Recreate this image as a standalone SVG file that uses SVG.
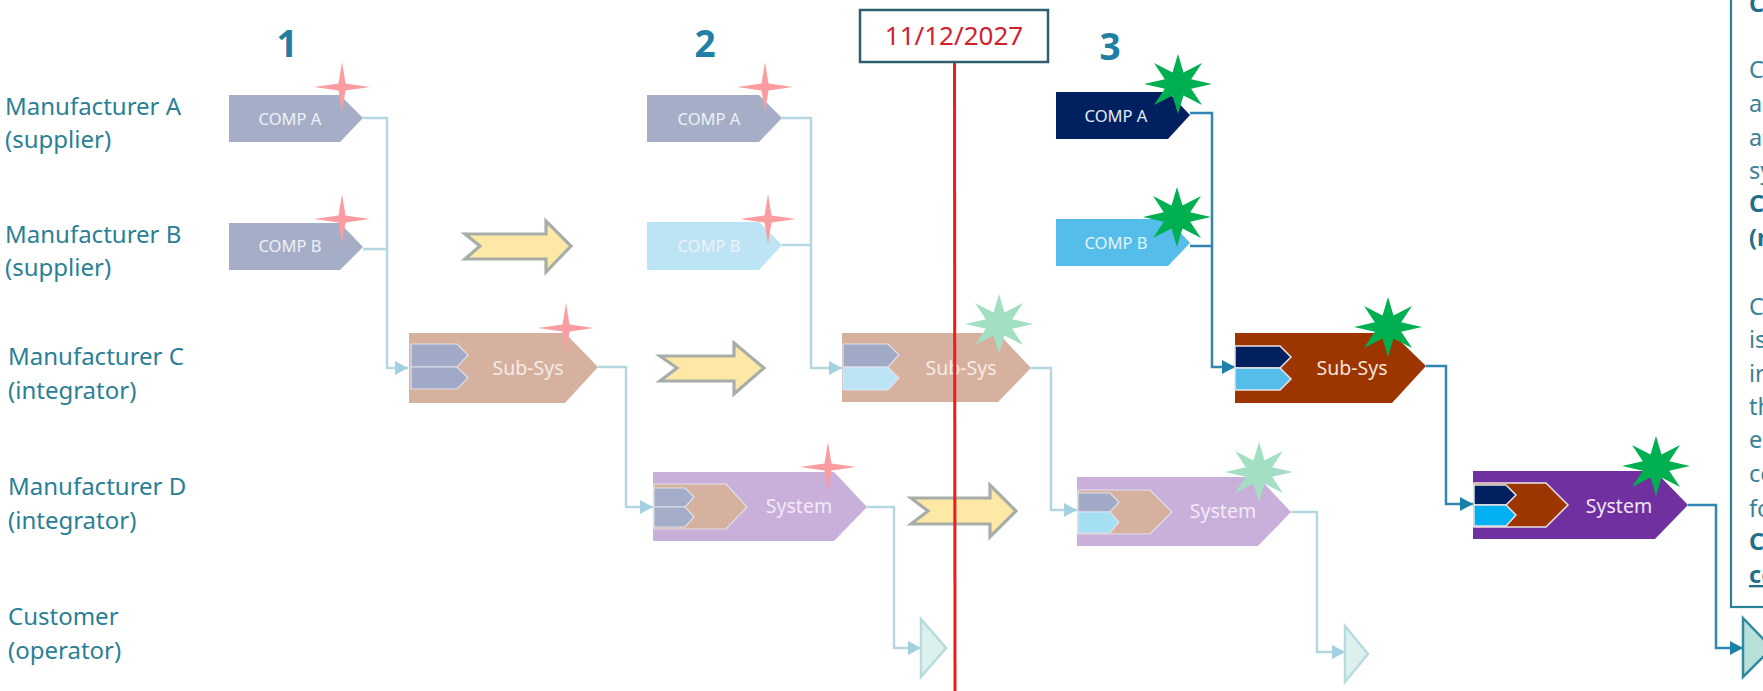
<svg xmlns="http://www.w3.org/2000/svg" width="1763" height="691" viewBox="0 0 1763 691">
<style>
text{font-family:"Noto Sans","Open Sans","Liberation Sans",sans-serif}
.lab{font-size:24px;fill:#2a7f96}
.num{font-size:37px;font-weight:700;fill:#1f7fa5;text-anchor:middle}
.cp{font-size:16.5px;text-anchor:middle}
.lg{font-size:19.5px;text-anchor:middle}
.fadeT{fill:#eef1f7}
.pan{font-size:23.5px;fill:#3a8199}
.panb{font-size:23.5px;fill:#1f7088;font-weight:700}
.cf{fill:none;stroke:#b4d6e0;stroke-width:2.5;marker-end:url(#mf)}
.cfp{fill:none;stroke:#b4d6e0;stroke-width:2.5}
.cd{fill:none;stroke:#2f86b3;stroke-width:2.5;marker-end:url(#md)}
.cdp{fill:none;stroke:#2f86b3;stroke-width:2.5}
.big{fill:#fde9a5;stroke:#a7aeaa;stroke-width:3.2}
.in{stroke:#e8e2e6;stroke-width:1.5}
.inf{stroke:#dfe2ea;stroke-width:1.2}
.s4{fill:#fa9ca0}
.s8f{fill:#a3e0c3}
.s8{fill:#00b050}
</style>
<defs>
<marker id="mf" markerUnits="userSpaceOnUse" markerWidth="14" markerHeight="16" refX="13" refY="8" orient="auto"><path d="M0 1L13 8L0 15Z" fill="#a2d2e2"/></marker>
<marker id="md" markerUnits="userSpaceOnUse" markerWidth="14" markerHeight="16" refX="13" refY="8" orient="auto"><path d="M0 1L13 8L0 15Z" fill="#1a81ab"/></marker>
<polygon id="star4" points="0,-25 3.5,-3.5 28,0 3.5,3.5 0,25 -3.5,3.5 -28,0 -3.5,-3.5"/>
<polygon id="star8" points="0,-30 5.5,-11.6 24,-21 13.2,-4.8 34,0 13.2,4.8 24,21 5.5,11.6 0,30 -5.5,11.6 -24,21 -13.2,4.8 -34,0 -13.2,-4.8 -24,-21 -5.5,-11.6"/>
</defs>

<g id="row-labels">
<text class="lab" x="5" y="115">Manufacturer A</text><text class="lab" x="5" y="148">(supplier)</text>
<text class="lab" x="5" y="243">Manufacturer B</text><text class="lab" x="5" y="276">(supplier)</text>
<text class="lab" x="8" y="365">Manufacturer C</text><text class="lab" x="8" y="399">(integrator)</text>
<text class="lab" x="8" y="495">Manufacturer D</text><text class="lab" x="8" y="529">(integrator)</text>
<text class="lab" x="8" y="625">Customer</text><text class="lab" x="8" y="659">(operator)</text>
</g>
<g id="step-numbers">
<text class="num" x="287" y="57">1</text><text class="num" x="705" y="57">2</text><text class="num" x="1110" y="60">3</text>
</g>

<g id="connectors">
<path class="cf" d="M363 118H387V368H408"/><path class="cfp" d="M363 249H387"/>
<path class="cf" d="M598 367H626V507H653"/>
<path class="cf" d="M867 507H894V648H921"/>
<path class="cf" d="M782 118H811V368H842"/><path class="cfp" d="M782 245H811"/>
<path class="cf" d="M1031 368H1051V510H1077"/>
<path class="cf" d="M1291 512H1317V652H1345"/>
<path class="cd" d="M1190 113H1212V367H1235"/><path class="cdp" d="M1190 246H1212"/>
<path class="cd" d="M1426 366H1446V504H1473"/>
<path class="cd" d="M1688 505H1716V648H1743"/>
</g>

<g id="big-arrows">
<polygon class="big" points="465,234 546,234 546,221 571,246 546,272 546,259 465,259 480,246"/>
<polygon class="big" points="660,356 734,356 734,343 764,368 734,394 734,381 660,381 677,368"/>
<polygon class="big" points="911,498 990,498 990,485 1016,511 990,537 990,524 911,524 928,511"/>
</g>

<g id="col1-comp-a"><polygon points="229,95 340,95 363,118 340,142 229,142" fill="#a5aec6"/><text class="cp fadeT" x="290" y="125">COMP A</text><use href="#star4" x="342" y="87" class="s4"/></g>
<g id="col1-comp-b"><polygon points="229,223 340,223 363,247 340,270 229,270" fill="#a5aec6"/><text class="cp fadeT" x="290" y="252">COMP B</text><use href="#star4" x="342" y="219" class="s4"/></g>
<g id="col1-sub-sys"><polygon points="409,333 565,333 598,367 565,403 409,403" fill="#d7b19f"/>
<polygon class="inf" points="411,344 457,344 468,355 457,367 411,367" fill="#a0a9c6"/><polygon class="inf" points="411,367 457,367 468,378 457,389 411,389" fill="#a0a9c6"/>
<text class="lg" x="528" y="375" fill="#f5ebe6">Sub-Sys</text><use href="#star4" x="566" y="328" class="s4"/></g>
<g id="col1-system"><polygon points="653,472 834,472 867,507 834,541 653,541" fill="#c8b0da"/>
<polygon class="inf" points="654,484 726,484 747,507 726,529 654,529" fill="#d7b19f"/>
<polygon class="inf" points="654,488 685,488 694,497 685,507 654,507" fill="#a3adc8"/><polygon class="inf" points="654,507 685,507 694,517 685,527 654,527" fill="#a3adc8"/>
<text class="lg" x="799" y="513" fill="#f3eaf7">System</text><use href="#star4" x="828" y="467" class="s4"/></g>
<g id="col1-customer"><polygon points="921,619 946,648 921,677" fill="#dcf0ee" stroke="#b8dbe0" stroke-width="2.5"/></g>

<g id="col2-comp-a"><polygon points="647,95 759,95 782,118 759,142 647,142" fill="#a5aec6"/><text class="cp fadeT" x="709" y="125">COMP A</text><use href="#star4" x="765" y="87" class="s4"/></g>
<g id="col2-comp-b"><polygon points="647,222 759,222 782,245 759,270 647,270" fill="#bde4f4"/><text class="cp fadeT" x="709" y="252">COMP B</text><use href="#star4" x="768" y="219" class="s4"/></g>
<g id="col2-sub-sys"><polygon points="842,333 998,333 1031,368 998,402 842,402" fill="#d7b19f"/>
<polygon class="inf" points="843,344 888,344 899,355 888,367 843,367" fill="#a0a9c6"/><polygon class="inf" points="843,367 888,367 899,378 888,390 843,390" fill="#bde4f4"/>
<text class="lg" x="961" y="375" fill="#f5ebe6">Sub-Sys</text><use href="#star8" x="999" y="324" class="s8f"/></g>
<g id="col2-system"><polygon points="1077,477 1258,477 1291,512 1258,546 1077,546" fill="#c8b0da"/>
<polygon class="inf" points="1078,490 1150,490 1172,512 1150,534 1078,534" fill="#d7b19f"/>
<polygon class="inf" points="1078,493 1110,493 1119,502 1110,512 1078,512" fill="#a0a9c6"/><polygon class="inf" points="1078,512 1110,512 1119,522 1110,533 1078,533" fill="#a5dff4"/>
<text class="lg" x="1223" y="518" fill="#f3eaf7">System</text><use href="#star8" x="1259" y="472" class="s8f"/></g>
<g id="col2-customer"><polygon points="1345,626 1368,654 1345,682" fill="#dcf0ee" stroke="#b8dbe0" stroke-width="2.5"/></g>

<g id="col3-comp-a"><polygon points="1056,92 1168,92 1190,115 1168,139 1056,139" fill="#002060"/><text class="cp" x="1116" y="122" fill="#e4ecf8">COMP A</text><use href="#star8" x="1178" y="84" class="s8"/></g>
<g id="col3-comp-b"><polygon points="1056,219 1168,219 1190,243 1168,266 1056,266" fill="#55bde9"/><text class="cp" x="1116" y="249" fill="#e4f4fb">COMP B</text><use href="#star8" x="1177" y="217" class="s8"/></g>
<g id="col3-sub-sys"><polygon points="1235,333 1392,333 1426,366 1392,403 1235,403" fill="#9c3500"/>
<polygon class="in" points="1235,346 1280,346 1291,357 1280,368 1235,368" fill="#002060"/><polygon class="in" points="1235,368 1280,368 1291,379 1280,390 1235,390" fill="#55bde9"/>
<text class="lg" x="1352" y="375" fill="#f6e6dc">Sub-Sys</text><use href="#star8" x="1388" y="327" class="s8"/></g>
<g id="col3-system"><polygon points="1473,471 1655,471 1688,505 1655,539 1473,539" fill="#7030a0"/>
<polygon class="in" points="1474,483 1546,483 1568,505 1546,527 1474,527" fill="#9c3500"/>
<polygon class="in" points="1474,485 1506,485 1516,495 1506,505 1474,505" fill="#002060"/><polygon class="in" points="1474,505 1506,505 1516,515 1506,526 1474,526" fill="#00b0f0"/>
<text class="lg" x="1619" y="513" fill="#f3e6fa">System</text><use href="#star8" x="1656" y="466" class="s8"/></g>
<g id="col3-customer"><polygon points="1743,618 1772,648 1743,677" fill="#b8e0d8" stroke="#2e8aa0" stroke-width="2.5"/></g>

<g id="today-line">
<line x1="954.5" y1="63" x2="955" y2="691" stroke="#ea1c1c" stroke-width="3"/>
<rect x="860" y="10" width="188" height="52" fill="#fff" stroke="#2c5f70" stroke-width="2.5"/>
<text x="954" y="45" text-anchor="middle" font-size="26" fill="#d2202f">11/12/2027</text>
</g>

<g id="text-panel">
<rect x="1731" y="-20" width="80" height="627" fill="none" stroke="#2a8095" stroke-width="2.2"/>
<text class="panb" x="1749" y="12">C</text>
<text class="pan" x="1749" y="78">C</text>
<text class="pan" x="1749" y="112">ad</text>
<text class="pan" x="1749" y="146">at</text>
<text class="pan" x="1749" y="179">sy</text>
<text class="panb" x="1749" y="212">C</text>
<text class="panb" x="1749" y="246">(n</text>
<text class="pan" x="1749" y="315">C</text>
<text class="pan" x="1749" y="348">is</text>
<text class="pan" x="1749" y="382">ir</text>
<text class="pan" x="1749" y="415">th</text>
<text class="pan" x="1749" y="448">e</text>
<text class="pan" x="1749" y="482">co</text>
<text class="pan" x="1749" y="517">fo</text>
<text class="panb" x="1749" y="550">C</text>
<text class="panb" x="1749" y="583" text-decoration="underline">co</text>
</g>
</svg>
